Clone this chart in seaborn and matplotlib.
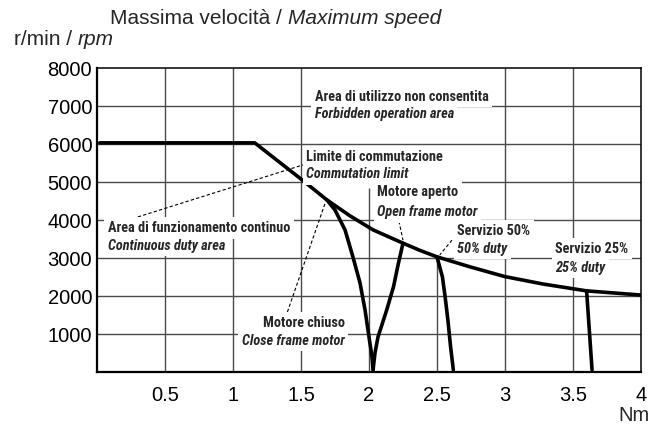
import matplotlib
matplotlib.use("Agg")
import matplotlib.pyplot as plt
from matplotlib import font_manager
import seaborn as sns

# ── data ──────────────────────────────────────────────────────────────────────
limit_torque = [0.02, 1.16, 1.51, 1.69, 1.86, 2.03, 2.25, 2.375, 2.5, 2.74,
                3.0, 3.28, 3.6, 4.0]
limit_speed  = [6030, 6030, 5050, 4530, 4110, 3740, 3390, 3200, 3030, 2770,
                2510, 2315, 2135, 2025]

closed_torque = [1.69, 1.75, 1.824, 1.882, 1.934, 1.971, 2.0, 2.022, 2.03]
closed_speed  = [4530, 4263, 3737, 3026, 2342, 1632, 921, 395, 60]

open_torque = [2.03, 2.044, 2.066, 2.13, 2.18, 2.215, 2.25]
open_speed  = [60, 500, 920, 1630, 2240, 2840, 3390]

duty50_torque = [2.5, 2.54, 2.56, 2.58, 2.60, 2.62]
duty50_speed  = [3030, 2500, 1970, 1370, 660, 60]

duty25_torque = [3.6, 3.62, 3.64]
duty25_speed  = [2135, 1100, 60]

# dashed leader lines (torque, speed)
leader_limit  = ([0.30, 1.515], [4080, 5450])
leader_closed = ([1.40, 1.68], [1580, 4470])
leader_open   = ([2.22, 2.25], [3970, 3470])
leader_duty50 = ([2.61, 2.52], [3470, 3080])

x_ticks = [0.5, 1, 1.5, 2, 2.5, 3, 3.5, 4]
x_labels = ["0.5", "1", "1.5", "2", "2.5", "3", "3.5", "4"]
y_ticks = [1000, 2000, 3000, 4000, 5000, 6000, 7000, 8000]
grid_x = [0.5, 1, 1.5, 2, 2.5, 3, 3.5]
grid_x_top = [8000, 8000, 8000, 4840, 3000, 8000, 8000]
grid_y = [1000, 2000, 3000, 4000, 5000, 6000, 7000]


def pick_font(cands):
    for c in cands:
        try:
            font_manager.findfont(font_manager.FontProperties(family=c),
                                  fallback_to_default=False)
            return c
        except Exception:
            pass
    return "DejaVu Sans"


sns.set_theme(style="white")
plt.rcParams["font.family"] = ["Liberation Sans", "DejaVu Sans"]
NARROW = pick_font(["Liberation Sans Narrow", "Roboto Condensed", "DejaVu Sans"])

fig = plt.figure(figsize=(6.67, 4.28), dpi=100)
ax = fig.add_axes([97 / 667, 56 / 428, 544 / 667, 304 / 428])

# grid drawn by hand: some lines stop short in the original
ax.vlines(grid_x, 0, grid_x_top, color="#4a4a4a", lw=1.0, zorder=1)
ax.hlines(grid_y, 0, 4, color="#4a4a4a", lw=1.0, zorder=1)

for t, s in [(limit_torque, limit_speed), (closed_torque, closed_speed),
             (open_torque, open_speed), (duty50_torque, duty50_speed),
             (duty25_torque, duty25_speed)]:
    sns.lineplot(x=t, y=s, sort=False, estimator=None, color="black",
                 lw=2.6, solid_joinstyle="round", ax=ax, zorder=4)

for t, s in [leader_limit, leader_closed, leader_open, leader_duty50]:
    sns.lineplot(x=t, y=s, sort=False, estimator=None, color="black",
                 lw=0.8, linestyle=(0, (3, 2)), ax=ax, zorder=3)

ax.set_xlim(0, 4)
ax.set_ylim(0, 8000)
ax.set_xticks(x_ticks)
ax.set_xticklabels(x_labels)
ax.set_yticks(y_ticks)
ax.tick_params(axis="both", length=0, labelsize=14.5, colors="black")
ax.tick_params(axis="x", pad=10)
ax.tick_params(axis="y", pad=3.5)
for side, w in [("left", 1.6), ("bottom", 1.6), ("top", 1.1), ("right", 1.1)]:
    ax.spines[side].set_color("black")
    ax.spines[side].set_linewidth(w)
ax.set_xlabel("")
ax.set_ylabel("")

box = dict(facecolor="white", edgecolor="none", boxstyle="square,pad=0.25")
labels = [
    (1.60, 7240, "Area di utilizzo non consentita", "normal", "left"),
    (1.60, 6790, "Forbidden operation area", "italic", "left"),
    (1.54, 5660, "Limite di commutazione", "normal", "left"),
    (1.54, 5210, "Commutation limit", "italic", "left"),
    (2.06, 4740, "Motore aperto", "normal", "left"),
    (2.06, 4210, "Open frame motor", "italic", "left"),
    (2.65, 3710, "Servizio 50%", "normal", "left"),
    (2.65, 3240, "50% duty", "italic", "left"),
    (3.37, 3240, "Servizio 25%", "normal", "left"),
    (3.37, 2740, "25% duty", "italic", "left"),
    (0.08, 3790, "Area di funzionamento continuo", "normal", "left"),
    (0.08, 3320, "Continuous duty area", "italic", "left"),
    (1.82, 1290, "Motore chiuso", "normal", "right"),
    (1.82, 820, "Close frame motor", "italic", "right"),
]
for x, y, txt, style, ha in labels:
    ax.text(x, y, txt, family=NARROW, fontweight="bold", fontstyle=style,
            fontsize=10.3, ha=ha, va="center", bbox=box, zorder=5)

# titles with mixed regular / italic parts
renderer = fig.canvas.get_renderer()


def two_part(x, y, a, b, size):
    t1 = fig.text(x, y, a, fontsize=size, va="baseline")
    bb = t1.get_window_extent(renderer)
    fig.text(bb.x1 / fig.bbox.width, y, b, fontsize=size,
             fontstyle="italic", va="baseline")


two_part(110 / 667, 1 - 24 / 428, "Massima velocità / ", "Maximum speed", 15)
two_part(14 / 667, 1 - 45 / 428, "r/min / ", "rpm", 15)
fig.text(650 / 667, 1 - 421 / 428, "Nm", fontsize=14.5, ha="right", va="baseline")

fig.savefig("out.png", dpi=100)
